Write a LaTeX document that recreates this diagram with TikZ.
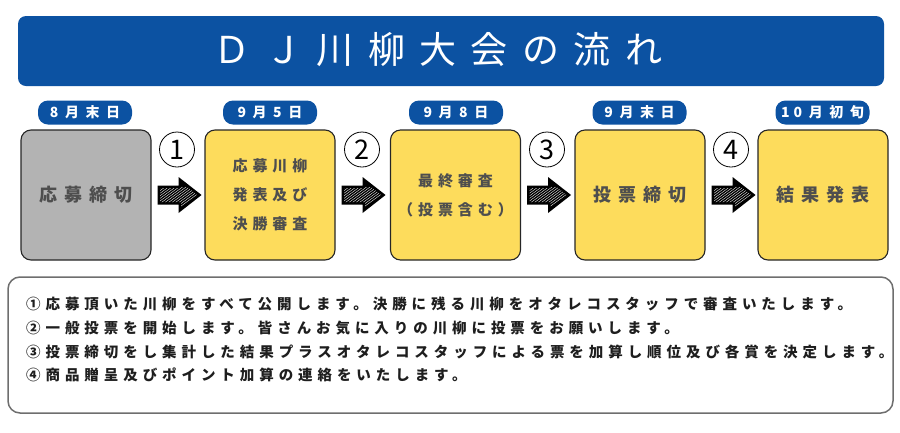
\documentclass[tikz,border=0pt]{standalone}
\usepackage{fontspec}
\setmainfont{Noto Sans CJK JP}
\usetikzlibrary{calc}
\definecolor{bannerblue}{RGB}{12,82,162}
\definecolor{boxyellow}{RGB}{253,220,92}
\definecolor{boxgray}{RGB}{179,179,179}
\definecolor{boxtext}{RGB}{78,78,78}
\definecolor{notetext}{RGB}{30,30,30}
\definecolor{noteborder}{RGB}{110,110,110}
\newcommand\gp{\hspace{6.5pt}}
\newcommand\pillfont{\bfseries\fontsize{14}{16}\selectfont}
\begin{document}
\begin{tikzpicture}[x=1pt,y=-1pt,
  stepbox/.style={draw=black!85, line width=1.1pt, rounded corners=10pt,
    minimum width=130pt, minimum height=130pt, inner sep=0pt, align=center, text=boxtext},
  bigtext/.style={font={\bfseries\fontsize{18}{24}\selectfont\addfontfeature{LetterSpace=39}}},
  smalltext/.style={font={\bfseries\fontsize{15}{29}\selectfont\addfontfeature{LetterSpace=33}}},
  datepill/.style={fill=bannerblue, rounded corners=10pt, minimum width=94pt, minimum height=24pt,
    inner sep=0pt, text=white},
  numcirc/.style={circle, draw=black, line width=0.8pt, minimum size=35pt, inner sep=0pt,
    font={\fontsize{27}{27}\selectfont}},
  noteline/.style={anchor=west, inner sep=0pt, text=notetext,
    font={\bfseries\fontsize{14.5}{16}\selectfont\addfontfeature{LetterSpace=34}}}
]
\useasboundingbox (0,0) rectangle (900,432);

% title banner
\node[fill=bannerblue, rounded corners=8pt, minimum width=866pt, minimum height=70pt, inner sep=0pt] (banner) at (451,51) {};
\node[text=white, inner sep=0pt, font={\fontsize{37}{40}\selectfont\addfontfeature{LetterSpace=39}}] (title) at (438,50) {ＤＪ川柳大会の流れ};

% boxes
\node[stepbox, fill=boxgray, bigtext] (b1) at (86,195) {応募締切};
\node[stepbox, fill=boxyellow, smalltext] (b2) at (270,195) {応募川柳\\発表及び\\決勝審査};
\node[stepbox, fill=boxyellow, smalltext] (b3) at (455.5,195) {最終審査\\（投票含む）};
\node[stepbox, fill=boxyellow, bigtext] (b4) at (640,195) {投票締切};
\node[stepbox, fill=boxyellow, bigtext] (b5) at (823,195) {結果発表};

% date pills
\node[datepill] (d1) at (85,112.5) {\pillfont 8\gp 月\gp 末\gp 日};
\node[datepill] (d2) at (270,112.5) {\pillfont 9\gp 月\gp 5\gp 日};
\node[datepill] (d3) at (456,112.5) {\pillfont 9\gp 月\gp 8\gp 日};
\node[datepill] (d4) at (639.5,112.5) {\pillfont 9\gp 月\gp 末\gp 日};
\node[datepill] (d5) at (822.5,112.5) {\pillfont 1\hspace{4pt}0\gp 月\gp 初\gp 旬};

% circled numbers
\node[numcirc] (n1) at (177,149.5) {1};
\node[numcirc] (n2) at (362,149.5) {2};
\node[numcirc] (n3) at (547,149.5) {3};
\node[numcirc] (n4) at (731,149.5) {4};

% hatched arrows
\foreach \a in {b1,b2,b3,b4}{
  \begin{scope}[shift={($(\a.east)+(6,0)$)}]
    \fill[black] (0,-9.5) -- (21,-9.5) -- (21,-18) -- (44,0) -- (21,18) -- (21,9.5) -- (0,9.5) -- cycle;
    \begin{scope}
      \clip (2.5,-7) -- (23.5,-7) -- (23.5,-13) -- (39.5,0) -- (23.5,13) -- (23.5,7) -- (2.5,7) -- cycle;
      \foreach \k in {-40,-36.5,...,50} \draw[white, line width=0.35pt] (\k,14) -- ++(30,-22);
    \end{scope}
  \end{scope}
}

% notes box
\node[draw=noteborder, line width=1.5pt, rounded corners=12pt, minimum width=885pt, minimum height=136pt, inner sep=0pt] (notes) at (450.5,345) {};
\node[noteline] (l1) at (26,304) {①応募頂いた川柳をすべて公開します。決勝に残る川柳をオタレコスタッフで審査いたします。};
\node[noteline] (l2) at (26,328) {②一般投票を開始します。皆さんお気に入りの川柳に投票をお願いします。};
\node[noteline] (l3) at (26,352) {③投票締切をし集計した結果プラスオタレコスタッフによる票を加算し順位及び各賞を決定します。};
\node[noteline] (l4) at (26,375) {④商品贈呈及びポイント加算の連絡をいたします。};
\end{tikzpicture}
\end{document}
